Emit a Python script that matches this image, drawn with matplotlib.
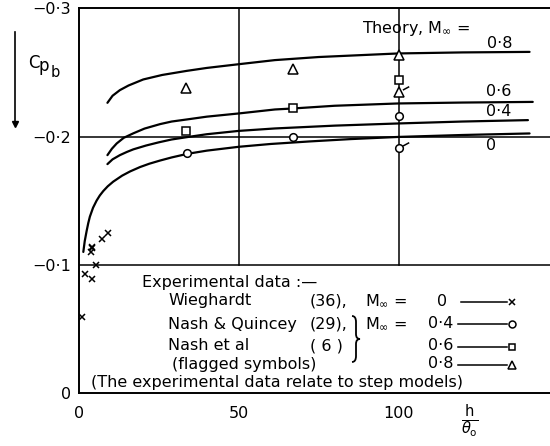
import matplotlib
matplotlib.use("Agg")
import matplotlib.pyplot as plt
from matplotlib.lines import Line2D
from matplotlib.path import Path
from matplotlib.patches import PathPatch
from matplotlib.ticker import FixedLocator, FuncFormatter

plt.rcParams['font.family'] = ['DejaVu Sans']
plt.rcParams['mathtext.fontset'] = 'dejavusans'

# theory curves, h/theta0 against Cpb
th0_x = [1.35, 1.8, 2.4, 2.9, 3.4, 4.4, 5.5, 6.5, 7.6, 9.0, 10.7, 13.5, 16, 19.1,
         22, 25.4, 29, 33.9, 40, 50, 60, 72.3, 85, 100, 120, 141]
th0_y = [-0.110, -0.1185, -0.1265, -0.1325, -0.1375, -0.1445, -0.1500, -0.1540,
         -0.1575, -0.1612, -0.1648, -0.1695, -0.1728, -0.1762, -0.1788, -0.1813,
         -0.1837, -0.1865, -0.1890, -0.1920, -0.1942, -0.1962, -0.1980, -0.1997,
         -0.2012, -0.2024]
th4_x = [8.9, 10.5, 12.8, 15, 17, 21, 25, 29, 33.7, 40, 50, 61.3, 80, 100, 120, 140.5]
th4_y = [-0.1785, -0.1822, -0.1855, -0.1880, -0.1900, -0.1930, -0.1955, -0.1977,
         -0.1995, -0.2018, -0.2044, -0.2063, -0.2085, -0.2102, -0.2117, -0.2128]
th6_x = [8.9, 10.3, 11.8, 14, 17, 20.5, 25.4, 29, 33.7, 40, 50, 61.3, 67.1, 80, 100,
         120, 142]
th6_y = [-0.1855, -0.1905, -0.1946, -0.1990, -0.2025, -0.2062, -0.2097, -0.2117,
         -0.2133, -0.2155, -0.2180, -0.2211, -0.2219, -0.2240, -0.2258, -0.2265, -0.2270]
th8_x = [8.9, 10.5, 12.8, 15.5, 20.1, 26, 33.7, 40, 50, 61.3, 75, 100, 120, 141]
th8_y = [-0.2263, -0.2318, -0.2362, -0.2398, -0.2445, -0.2480, -0.2512, -0.2535,
         -0.2564, -0.2596, -0.2620, -0.2648, -0.2656, -0.2660]

# experimental points
wieg_x = [1.0, 1.9, 4.0, 5.2, 3.7, 4.0, 4.2, 7.3, 9.2]
wieg_y = [-0.0595, -0.0928, -0.0889, -0.0998, -0.1097, -0.1140, -0.1128, -0.1198, -0.1249]
m4_x = [33.9, 67.1, 100]
m4_y = [-0.1868, -0.1998, -0.2159]
m6_x = [33.5, 67.1, 100]
m6_y = [-0.2044, -0.2219, -0.2440]
m8_x = [33.5, 67.1, 100]
m8_y = [-0.2375, -0.2523, -0.2634]
# flagged symbols (Nash et al)
flag_circ_x = [100]
flag_circ_y = [-0.1907]
flag_tri_x = [100]
flag_tri_y = [-0.2348]

W, H = 550, 446
fig = plt.figure(figsize=(W / 100, H / 100), dpi=100)
ax = fig.add_axes([79 / W, 1 - 393 / H, 1 - 79 / W, (393 - 8.3) / H])


def fp(x, y):
    # pixel position (y down) -> figure fraction
    return x / W, 1 - y / H


ax.set_xlim(0, 147.4)
ax.set_ylim(0, -0.3)
ax.spines['right'].set_visible(False)
for s in ('left', 'top', 'bottom'):
    ax.spines[s].set_linewidth(1.4)

ax.xaxis.set_major_locator(FixedLocator([0, 50, 100]))
ax.yaxis.set_major_locator(FixedLocator([0, -0.1, -0.2, -0.3]))
ax.yaxis.set_major_formatter(FuncFormatter(
    lambda v, p: "0" if abs(v) < 1e-9 else "\u22120\u00b7%d" % round(-v * 10)))
ax.tick_params(length=0, labelsize=11.5)
ax.tick_params(axis='x', pad=9)
ax.tick_params(axis='y', pad=6)

# grid lines (vertical ones stop at the key box)
ax.axhline(-0.1, color='k', lw=1.1)
ax.axhline(-0.2, color='k', lw=1.1)
ax.axvline(50, ymin=1 / 3, ymax=1, color='k', lw=1.1)
ax.axvline(100, ymin=1 / 3, ymax=1, color='k', lw=1.1)

for cx, cy in [(th0_x, th0_y), (th4_x, th4_y), (th6_x, th6_y), (th8_x, th8_y)]:
    ax.plot(cx, cy, color='k', lw=1.6, solid_capstyle='round',
            solid_joinstyle='round', zorder=3)

mk = dict(color='k', ls='none', markerfacecolor='white', markeredgewidth=1.1, zorder=5)
ax.plot(wieg_x, wieg_y, marker='x', ms=4.8, **mk)
ax.plot(m4_x, m4_y, marker='o', ms=5.5, **mk)
ax.plot(m6_x, m6_y, marker='s', ms=5.3, **mk)
ax.plot(m8_x, m8_y, marker='^', ms=7, **mk)
ax.plot(flag_circ_x, flag_circ_y, marker='o', ms=5.5, **mk)
ax.plot(flag_tri_x, flag_tri_y, marker='^', ms=7, **mk)
flag = Path([(0.35, 0.25), (1.0, 0.6)], [Path.MOVETO, Path.LINETO])
ax.plot(flag_circ_x + flag_tri_x, flag_circ_y + flag_tri_y, marker=flag, ms=14,
        color='k', ls='none', markerfacecolor='none', markeredgewidth=1.1, zorder=6)

# curve labels
fs = 11.5
fig.text(*fp(362, 29), r"Theory, M$_{\infty}$ =", fontsize=fs, va='center')
fig.text(*fp(487, 43), "0\u00b78", fontsize=fs, va='center')
fig.text(*fp(486, 92), "0\u00b76", fontsize=fs, va='center')
fig.text(*fp(486, 112), "0\u00b74", fontsize=fs, va='center')
fig.text(*fp(486, 145), "0", fontsize=fs, va='center')

# axis labels: C, p, b stepped down
fig.text(*fp(28, 68), "C", fontsize=12, va='baseline')
fig.text(*fp(39, 71), "p", fontsize=12, va='baseline')
fig.text(*fp(51, 77), "b", fontsize=10.5, va='baseline')
fig.add_artist(Line2D([15 / W, 15 / W], [1 - 32 / H, 1 - 122 / H], color='k', lw=1.2))
fig.add_artist(Line2D([15 / W], [1 - 124 / H], marker='v', ms=5, color='k'))
fig.text(*fp(470, 421), r"$\frac{\mathrm{h}}{\theta_\mathrm{o}}$", fontsize=15,
         ha='center', va='center')

# key
fig.text(*fp(142, 282), "Experimental data :\u2014", fontsize=fs, va='center')
fig.text(*fp(168, 301), "Wieghardt", fontsize=fs, va='center')
fig.text(*fp(310, 301), "(36),", fontsize=fs, va='center')
fig.text(*fp(365, 301), r"M$_{\infty}$ =", fontsize=fs, va='center')
fig.text(*fp(437, 301), "0", fontsize=fs, va='center')
fig.text(*fp(168, 324), "Nash & Quincey", fontsize=fs, va='center')
fig.text(*fp(310, 324), "(29),", fontsize=fs, va='center')
fig.text(*fp(365, 324), r"M$_{\infty}$ =", fontsize=fs, va='center')
fig.text(*fp(428, 324), "0\u00b74", fontsize=fs, va='center')
fig.text(*fp(168, 346), "Nash et al", fontsize=fs, va='center')
fig.text(*fp(310, 346), "( 6 )", fontsize=fs, va='center')
fig.text(*fp(428, 346), "0\u00b76", fontsize=fs, va='center')
fig.text(*fp(172, 364), "(flagged symbols)", fontsize=fs, va='center')
fig.text(*fp(428, 364), "0\u00b78", fontsize=fs, va='center')
fig.text(*fp(91, 383), "(The experimental data relate to step models)",
         fontsize=fs, va='center')

# brace joining the Nash rows
bx, b0, b1, bw = 352, 316, 362, 8
bm = (b0 + b1) / 2
bv = [(bx, b0), (bx + bw / 2, b0), (bx + bw / 2, b0 + 6),
      (bx + bw / 2, bm - 5), (bx + bw / 2, bm), (bx + bw, bm),
      (bx + bw / 2, bm), (bx + bw / 2, bm + 5),
      (bx + bw / 2, b1 - 6), (bx + bw / 2, b1), (bx, b1)]
bc = [Path.MOVETO, Path.CURVE3, Path.CURVE3, Path.LINETO, Path.CURVE3, Path.CURVE3,
      Path.CURVE3, Path.CURVE3, Path.LINETO, Path.CURVE3, Path.CURVE3]
fig.add_artist(PathPatch(Path([fp(*v) for v in bv], bc), transform=fig.transFigure,
                         fill=False, lw=1.3, color='k'))

key_rows = [(461, 302, 'x', 5), (458, 324, 'o', 5), (458, 347, 's', 5), (458, 365, '^', 6)]
for x0, yy, m, s in key_rows:
    fig.add_artist(Line2D([x0 / W, 507 / W], [1 - yy / H] * 2, color='k', lw=1.1))
    fig.add_artist(Line2D([512 / W], [1 - yy / H], marker=m, ms=s, color='k',
                          markerfacecolor='white', markeredgewidth=1.1))

fig.savefig("out.png", dpi=100)
